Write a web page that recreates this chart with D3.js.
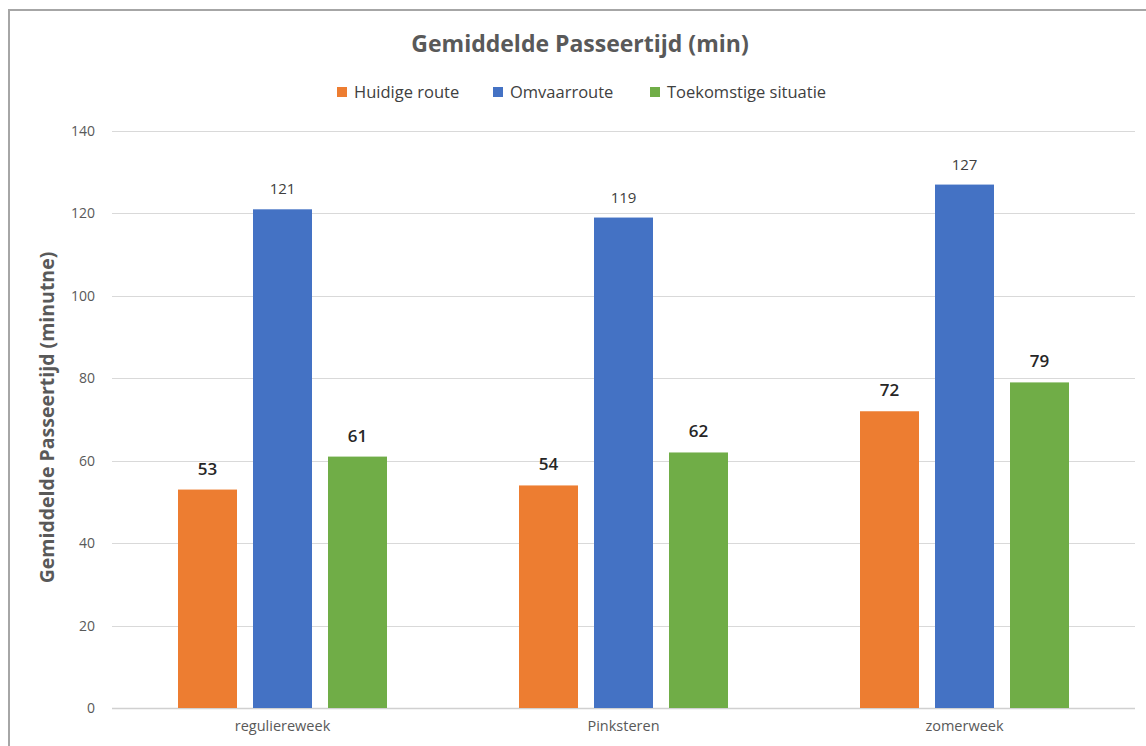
<!DOCTYPE html>
<html>
<head>
<meta charset="utf-8">
<script src="https://cdn.jsdelivr.net/npm/d3@7"></script>
<style>
  html, body { margin: 0; padding: 0; background: #fff; }
  svg { display: block; font-family: "Open Sans", "Noto Sans", sans-serif; }
</style>
</head>
<body>
<svg id="chart" width="1146" height="746"></svg>
<script>
// Chart data
const categories = ["reguliereweek", "Pinksteren", "zomerweek"];
const seriesNames = ["Huidige route", "Omvaarroute", "Toekomstige situatie"];
const huidigeRoute = [53, 54, 72];
const omvaarroute = [121, 119, 127];
const toekomstigeSituatie = [61, 62, 79];
const yTicks = [0, 20, 40, 60, 80, 100, 120, 140];
const seriesColors = ["#ED7D31", "#4472C4", "#70AD47"];

const seriesValues = [huidigeRoute, omvaarroute, toekomstigeSituatie];

const svg = d3.select("#chart");
const W = 1146, H = 746;
const plot = { left: 112, right: 1135, top: 131, bottom: 708 };

// Outer frame (left and top edges visible)
svg.append("rect")
  .attr("x", 9).attr("y", 10)
  .attr("width", W + 20).attr("height", H + 20)
  .attr("fill", "#fff")
  .attr("stroke", "#a6a6a6").attr("stroke-width", 2);

const y = d3.scaleLinear().domain([0, 140]).range([plot.bottom, plot.top]);
const x0 = d3.scaleBand().domain(categories).range([plot.left, plot.right]).padding(0);
const x1 = d3.scaleBand().domain(seriesNames).range([0, x0.bandwidth()])
  .paddingInner(0.2133).paddingOuter(0.88);

// Gridlines + y tick labels
const yAxis = d3.axisLeft(y).tickValues(yTicks).tickSize(0).tickPadding(17);
const gy = svg.append("g").attr("transform", `translate(${plot.left},0)`).call(yAxis);
gy.select(".domain").remove();
gy.selectAll("text")
  .attr("fill", "#595959").attr("font-size", 14)
  .attr("font-family", "'Open Sans', sans-serif");
svg.append("g").selectAll("line")
  .data(yTicks)
  .join("line")
  .attr("x1", plot.left).attr("x2", plot.right)
  .attr("y1", d => Math.round(y(d)) + 0.5).attr("y2", d => Math.round(y(d)) + 0.5)
  .attr("stroke", d => d === 0 ? "#d0d0d0" : "#d9d9d9")
  .attr("stroke-width", d => d === 0 ? 1.5 : 1);

// Category axis labels
const xAxis = d3.axisBottom(x0).tickSize(0).tickPadding(13);
const gx = svg.append("g").attr("transform", `translate(0,${plot.bottom})`).call(xAxis);
gx.select(".domain").remove();
gx.selectAll("text")
  .attr("fill", "#595959").attr("font-size", 14.5)
  .attr("font-family", "'Open Sans', sans-serif");

// Bars
const rows = categories.map((c, i) => ({
  category: c,
  values: seriesNames.map((s, j) => ({ series: s, idx: j, value: seriesValues[j][i] }))
}));

const groups = svg.append("g").selectAll("g")
  .data(rows)
  .join("g")
  .attr("transform", d => `translate(${x0(d.category)},0)`);

groups.selectAll("rect")
  .data(d => d.values)
  .join("rect")
  .attr("x", d => x1(d.series))
  .attr("y", d => y(d.value))
  .attr("width", x1.bandwidth())
  .attr("height", d => y(0) - y(d.value))
  .attr("fill", d => seriesColors[d.idx]);

// Value labels
groups.selectAll("text.val")
  .data(d => d.values)
  .join("text")
  .attr("class", "val")
  .attr("x", d => x1(d.series) + x1.bandwidth() / 2)
  .attr("y", d => y(d.value) - 15)
  .attr("text-anchor", "middle")
  .attr("font-size", d => d.idx === 1 ? 15 : 17)
  .attr("font-weight", d => d.idx === 1 ? 400 : 600)
  .attr("fill", d => d.idx === 1 ? "#404040" : "#262626")
  .text(d => d.value);

// Title
svg.append("text")
  .attr("x", 580).attr("y", 52)
  .attr("text-anchor", "middle")
  .attr("font-size", 23).attr("font-weight", 700)
  .attr("fill", "#595959")
  .text("Gemiddelde Passeertijd (min)");

// Y axis title
svg.append("text")
  .attr("transform", `translate(54,${(plot.top + plot.bottom) / 2 - 2}) rotate(-90)`)
  .attr("text-anchor", "middle")
  .attr("font-size", 19.5).attr("font-weight", 700)
  .attr("fill", "#595959")
  .text("Gemiddelde Passeertijd (minutne)");

// Legend
const legendX = [337, 493, 650];
const legend = svg.append("g").selectAll("g")
  .data(seriesNames)
  .join("g")
  .attr("transform", (d, i) => `translate(${legendX[i]},92)`);
legend.append("rect")
  .attr("x", 0).attr("y", -5).attr("width", 10).attr("height", 10)
  .attr("fill", (d, i) => seriesColors[i]);
legend.append("text")
  .attr("x", 17).attr("y", 6)
  .attr("font-size", 16.5)
  .attr("fill", "#404040")
  .text(d => d);
</script>
</body>
</html>
